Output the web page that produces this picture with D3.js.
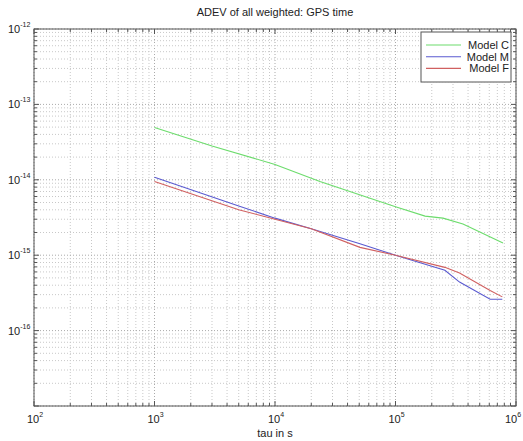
<!DOCTYPE html>
<html>
<head>
<meta charset="utf-8">
<script src="https://cdn.jsdelivr.net/npm/d3@7"></script>
<style>
  body { margin: 0; background: #fff; }
  text { font-family: "Liberation Sans", Arial, sans-serif; }
</style>
</head>
<body>
<div id="chart"></div>
<script>
// tau values (s) and ADEV for each model
const tauC = [1000, 3000, 10000, 23600, 100000, 176000, 248000, 363000, 780000];
const adevC = [4.95e-14, 2.8e-14, 1.6e-14, 9.5e-15, 4.4e-15, 3.3e-15, 3.1e-15, 2.6e-15, 1.45e-15];

const tauM = [1000, 5000, 10000, 20000, 50700, 100000, 257000, 340000, 610000, 770000];
const adevM = [1.08e-14, 4.5e-15, 3.1e-15, 2.24e-15, 1.42e-15, 1.0e-15, 6.3e-16, 4.4e-16, 2.6e-16, 2.6e-16];

const tauF = [1000, 5000, 10000, 20000, 50700, 100000, 257000, 340000, 610000, 770000];
const adevF = [9.5e-15, 4.0e-15, 3.0e-15, 2.24e-15, 1.27e-15, 1.0e-15, 6.9e-16, 5.8e-16, 3.4e-16, 2.8e-16];

const seriesNames = ["Model C", "Model M", "Model F"];
const seriesColors = ["#6cdc6c", "#5a5ad0", "#d06060"];

const xDecades = [1e2, 1e3, 1e4, 1e5, 1e6];
const yDecades = [1e-17, 1e-16, 1e-15, 1e-14, 1e-13, 1e-12];

const width = 523, height = 441;
const margin = { top: 29, right: 7, bottom: 35, left: 34 };

const svg = d3.select("#chart").append("svg")
    .attr("width", width)
    .attr("height", height);

const x = d3.scaleLog()
    .domain([1e2, 1e6])
    .range([margin.left, width - margin.right]);

const y = d3.scaleLog()
    .domain([1e-17, 1e-12])
    .range([height - margin.bottom, margin.top]);

const x0 = margin.left, x1 = width - margin.right;
const y0 = height - margin.bottom, y1 = margin.top;

// all ticks (1..9 per decade)
const xAll = x.ticks();
const yAll = y.ticks();
const isMajor = v => Math.abs(Math.log10(v) - Math.round(Math.log10(v))) < 1e-9;

// grid
const grid = svg.append("g");
grid.selectAll(".gx").data(xAll).enter().append("line")
    .attr("x1", d => x(d)).attr("x2", d => x(d))
    .attr("y1", y0).attr("y2", y1)
    .attr("stroke", d => isMajor(d) ? "#aaa" : "#c8c8c8")
    .attr("stroke-width", 1)
    .attr("stroke-dasharray", "1,2");
grid.selectAll(".gy").data(yAll).enter().append("line")
    .attr("x1", x0).attr("x2", x1)
    .attr("y1", d => y(d)).attr("y2", d => y(d))
    .attr("stroke", d => isMajor(d) ? "#aaa" : "#c8c8c8")
    .attr("stroke-width", 1)
    .attr("stroke-dasharray", "1,2");

// lines
const line = d3.line()
    .x(d => x(d[0]))
    .y(d => y(d[1]));

const series = [
    d3.zip(tauC, adevC),
    d3.zip(tauM, adevM),
    d3.zip(tauF, adevF)
];

svg.append("g").selectAll("path")
    .data(series)
    .enter().append("path")
    .attr("d", line)
    .attr("fill", "none")
    .attr("stroke", (d, i) => seriesColors[i])
    .attr("stroke-width", 1.1);

// box
svg.append("rect")
    .attr("x", x0).attr("y", y1)
    .attr("width", x1 - x0).attr("height", y0 - y1)
    .attr("fill", "none")
    .attr("stroke", "#555")
    .attr("stroke-width", 1);

// inward ticks on all sides
const ticks = svg.append("g").attr("stroke", "#555").attr("stroke-width", 1);
xAll.forEach(d => {
    const len = isMajor(d) ? 5 : 3;
    ticks.append("line").attr("x1", x(d)).attr("x2", x(d)).attr("y1", y0).attr("y2", y0 - len);
    ticks.append("line").attr("x1", x(d)).attr("x2", x(d)).attr("y1", y1).attr("y2", y1 + len);
});
yAll.forEach(d => {
    const len = isMajor(d) ? 5 : 3;
    ticks.append("line").attr("y1", y(d)).attr("y2", y(d)).attr("x1", x0).attr("x2", x0 + len);
    ticks.append("line").attr("y1", y(d)).attr("y2", y(d)).attr("x1", x1).attr("x2", x1 - len);
});

// tick labels
function powLabel(sel, exp) {
    sel.append("tspan").text("10");
    sel.append("tspan").attr("dy", -6).style("font-size", "7px").text(exp);
}

svg.append("g").selectAll("text")
    .data(xDecades)
    .enter().append("text")
    .attr("x", (d, i) => x(d) - (i === xDecades.length - 1 ? 11 : 7))
    .attr("y", y0 + 17)
    .style("font-size", "11px")
    .attr("fill", "#222")
    .each(function (d) { powLabel(d3.select(this), Math.round(Math.log10(d))); });

svg.append("g").selectAll("text")
    .data(yDecades.filter(d => d > 1e-17))
    .enter().append("text")
    .attr("x", 8)
    .attr("y", d => y(d) + 4)
    .style("font-size", "11px")
    .attr("fill", "#222")
    .each(function (d) { powLabel(d3.select(this), Math.round(Math.log10(d))); });

// title and axis label
svg.append("text")
    .attr("x", (x0 + x1) / 2)
    .attr("y", 16)
    .attr("text-anchor", "middle")
    .style("font-size", "11px")
    .attr("fill", "#222")
    .text("ADEV of all weighted: GPS time");

svg.append("text")
    .attr("x", (x0 + x1) / 2)
    .attr("y", 437)
    .attr("text-anchor", "middle")
    .style("font-size", "11px")
    .attr("fill", "#222")
    .text("tau in s");

// legend
const legend = svg.append("g");
legend.append("rect")
    .attr("x", 421).attr("y", 32)
    .attr("width", 90).attr("height", 50)
    .attr("fill", "#fff")
    .attr("stroke", "#555");
seriesNames.forEach((name, i) => {
    const ly = 45 + i * 11.7;
    legend.append("line")
        .attr("x1", 426).attr("x2", 461)
        .attr("y1", ly).attr("y2", ly)
        .attr("stroke", seriesColors[i])
        .attr("stroke-width", 1.1);
    legend.append("text")
        .attr("x", 509).attr("y", ly + 4)
        .attr("text-anchor", "end")
        .style("font-size", "11px")
        .attr("fill", "#222")
        .text(name);
});
</script>
</body>
</html>
